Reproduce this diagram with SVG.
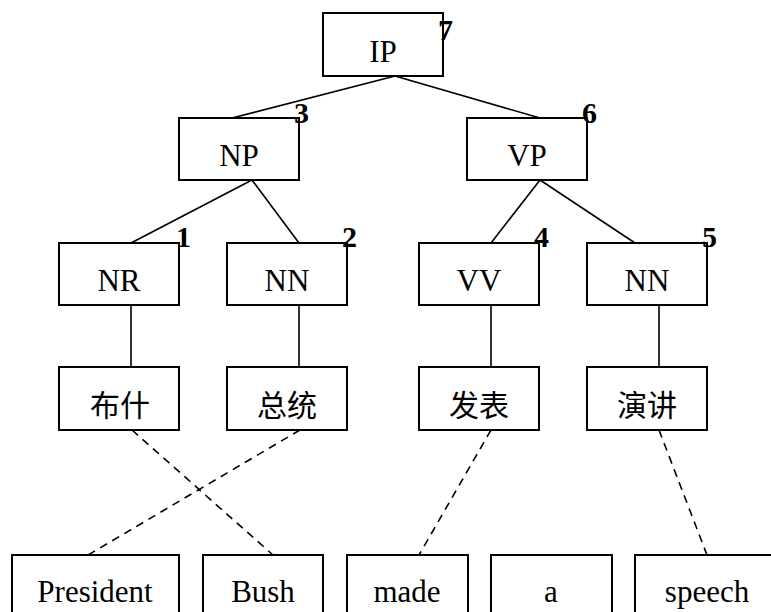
<svg xmlns="http://www.w3.org/2000/svg" width="771" height="612" viewBox="0 0 771 612">
  <style>
    .box { fill: #fff; stroke: #000; stroke-width: 2; }
    .lbl { font-family: "Liberation Serif", "Times New Roman", serif; font-size: 31px; fill: #000; text-anchor: middle; }
    .zh { font-family: "Liberation Serif", "Noto Sans CJK SC", serif; font-size: 30px; fill: #000; text-anchor: middle; }
    .num { font-family: "Liberation Serif", "Times New Roman", serif; font-size: 30px; font-weight: bold; fill: #000; }
    .edge { stroke: #000; stroke-width: 1.6; fill: none; }
    .align { stroke: #000; stroke-width: 1.6; fill: none; stroke-dasharray: 8 6; }
  </style>
  <rect width="771" height="612" fill="#fff"/>

  <!-- tree edges and word alignments -->
  <g id="connectors">
    <line class="edge" x1="395" y1="76" x2="232" y2="118"/>
    <line class="edge" x1="395" y1="76" x2="540" y2="118"/>
    <line class="edge" x1="252" y1="180" x2="131" y2="243"/>
    <line class="edge" x1="252" y1="180" x2="299" y2="243"/>
    <line class="edge" x1="540" y1="180" x2="491" y2="243"/>
    <line class="edge" x1="540" y1="180" x2="635" y2="243"/>
    <line class="edge" x1="131" y1="305" x2="131" y2="367"/>
    <line class="edge" x1="299" y1="305" x2="299" y2="367"/>
    <line class="edge" x1="491" y1="305" x2="491" y2="367"/>
    <line class="edge" x1="659" y1="305" x2="659" y2="367"/>
    <line class="align" x1="132" y1="430" x2="273" y2="555"/>
    <line class="align" x1="300" y1="430" x2="88" y2="555"/>
    <line class="align" x1="491" y1="430" x2="419" y2="555"/>
    <line class="align" x1="659" y1="430" x2="707" y2="555"/>
  </g>

  <!-- phrase and tag nodes -->
  <g id="ip"><rect class="box" x="323" y="13" width="120" height="63"/><text class="lbl" x="383" y="62">IP</text><text class="num" x="438" y="40">7</text></g>
  <g id="np"><rect class="box" x="179" y="118" width="120" height="62"/><text class="lbl" x="239" y="166">NP</text><text class="num" x="294" y="123">3</text></g>
  <g id="vp"><rect class="box" x="467" y="118" width="120" height="62"/><text class="lbl" x="527" y="166">VP</text><text class="num" x="582" y="123">6</text></g>
  <g id="nr"><rect class="box" x="59" y="243" width="120" height="62"/><text class="lbl" x="119" y="291">NR</text><text class="num" x="176" y="247">1</text></g>
  <g id="nn1"><rect class="box" x="227" y="243" width="120" height="62"/><text class="lbl" x="287" y="291">NN</text><text class="num" x="342" y="247">2</text></g>
  <g id="vv"><rect class="box" x="419" y="243" width="120" height="62"/><text class="lbl" x="479" y="291">VV</text><text class="num" x="534" y="247">4</text></g>
  <g id="nn2"><rect class="box" x="587" y="243" width="120" height="62"/><text class="lbl" x="647" y="291">NN</text><text class="num" x="702" y="247">5</text></g>

  <!-- Chinese words -->
  <g id="zh-bushi"><rect class="box" x="59" y="367" width="120" height="63"/><text class="zh" x="120" y="416">布什</text></g>
  <g id="zh-zongtong"><rect class="box" x="227" y="367" width="120" height="63"/><text class="zh" x="287" y="416">总统</text></g>
  <g id="zh-fabiao"><rect class="box" x="419" y="367" width="120" height="63"/><text class="zh" x="479" y="416">发表</text></g>
  <g id="zh-yanjiang"><rect class="box" x="587" y="367" width="120" height="63"/><text class="zh" x="647" y="416">演讲</text></g>

  <!-- English words -->
  <g id="en-president"><rect class="box" x="12" y="555" width="167" height="70"/><text class="lbl" x="95" y="602">President</text></g>
  <g id="en-bush"><rect class="box" x="203" y="555" width="120" height="70"/><text class="lbl" x="263" y="602">Bush</text></g>
  <g id="en-made"><rect class="box" x="347" y="555" width="121" height="70"/><text class="lbl" x="407" y="602">made</text></g>
  <g id="en-a"><rect class="box" x="491" y="555" width="121" height="70"/><text class="lbl" x="551" y="602">a</text></g>
  <g id="en-speech"><rect class="box" x="635" y="555" width="150" height="70"/><text class="lbl" x="707" y="602">speech</text></g>
</svg>
